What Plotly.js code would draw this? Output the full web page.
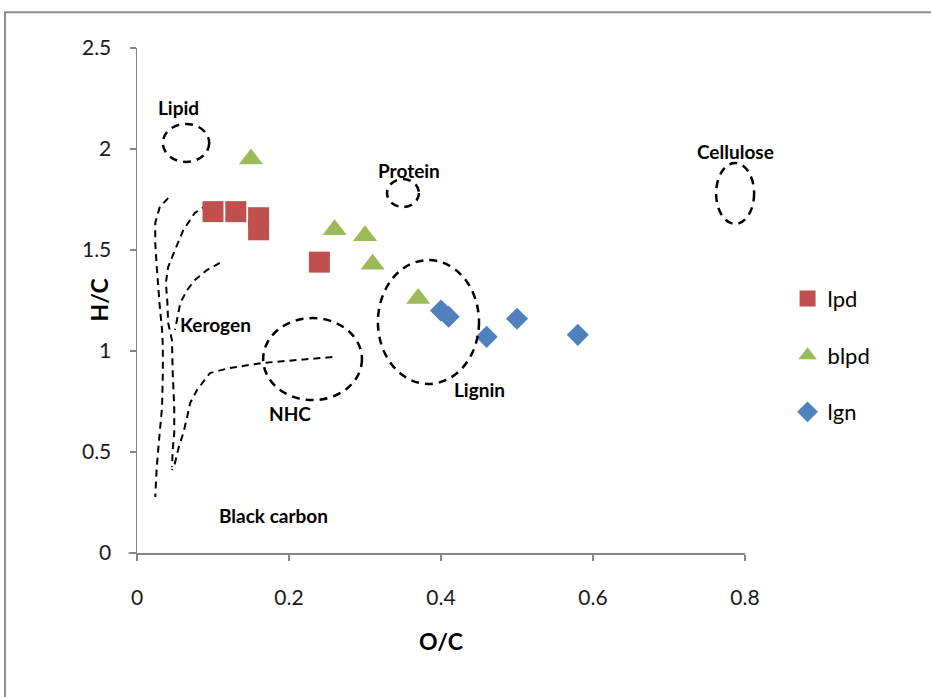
<!DOCTYPE html>
<html>
<head>
<meta charset="utf-8">
<script src="https://cdn.plot.ly/plotly-3.0.1.min.js"></script>
<style>html,body{margin:0;padding:0;background:#fff;}#chart{width:931px;height:697px;}</style>
</head>
<body>
<div id="chart"></div>
<script>
// Series: O/C (x) and H/C (y)
const lpdOC  = [0.10, 0.13, 0.16, 0.16, 0.24];
const lpdHC  = [1.69, 1.69, 1.66, 1.60, 1.44];
const blpdOC = [0.15, 0.26, 0.30, 0.31, 0.37];
const blpdHC = [1.95, 1.60, 1.57, 1.43, 1.26];
const lgnOC  = [0.40, 0.41, 0.46, 0.50, 0.58];
const lgnHC  = [1.20, 1.17, 1.07, 1.16, 1.08];
const seriesNames = ["lpd", "blpd", "lgn"];

// Van Krevelen boundary curves (O/C, H/C)
const curve1OC = [0.041,0.030,0.024,0.024,0.026,0.028,0.030,0.033,0.034,0.034,0.033,0.029,0.026,0.024];
const curve1HC = [1.757,1.713,1.634,1.535,1.416,1.302,1.218,1.104,1.020,0.891,0.723,0.559,0.426,0.277];
const curve2OC = [0.109,0.092,0.076,0.061,0.050,0.041,0.038,0.040,0.041,0.046,0.047,0.049,0.049,0.047,0.046];
const curve2HC = [1.733,1.723,1.683,1.599,1.500,1.416,1.337,1.238,1.139,1.054,0.891,0.723,0.594,0.510,0.426];
const curve3OC = [0.109,0.092,0.076,0.066,0.057,0.053,0.050];
const curve3HC = [1.436,1.401,1.351,1.302,1.238,1.168,1.104];
const curve4OC = [0.257,0.166,0.122,0.096,0.079,0.070,0.066,0.061,0.055,0.050,0.046];
const curve4HC = [0.970,0.941,0.916,0.891,0.807,0.743,0.673,0.594,0.525,0.446,0.411];

// Compound-class regions: [O/C min, O/C max], [H/C min, H/C max]
const regionNames = ["Lipid", "Protein", "Cellulose", "NHC", "Lignin"];
const regionOC = [[0.034,0.095],[0.329,0.371],[0.762,0.812],[0.166,0.296],[0.317,0.450]];
const regionHC = [[1.936,2.124],[1.713,1.851],[1.629,1.931],[0.757,1.163],[0.837,1.450]];

const xTicks = [0, 0.2, 0.4, 0.6, 0.8];
const yTicks = [0, 0.5, 1, 1.5, 2, 2.5];
const xRange = [0, 0.8];
const yRange = [0, 2.5];

const FONT = "Lato, 'Open Sans', sans-serif";
const dashLine = {color: "#000", width: 2, dash: "7px,5px"};

const traces = [];
[[curve1OC,curve1HC],[curve2OC,curve2HC],[curve3OC,curve3HC],[curve4OC,curve4HC]].forEach(c => {
  traces.push({x: c[0], y: c[1], type: "scatter", mode: "lines", line: dashLine,
    showlegend: false, hoverinfo: "skip"});
});
traces.push({x: lpdOC, y: lpdHC, type: "scatter", mode: "markers", name: seriesNames[0],
  legendgroup: "a", marker: {symbol: "square", size: 21, color: "#C0504D"}});
traces.push({x: blpdOC, y: blpdHC, type: "scatter", mode: "markers", name: seriesNames[1],
  legendgroup: "b", marker: {symbol: "triangle-up", size: 21, color: "#9BBB59"}});
traces.push({x: lgnOC, y: lgnHC, type: "scatter", mode: "markers", name: seriesNames[2],
  legendgroup: "c", marker: {symbol: "diamond", size: 17, color: "#4F81BD"}});

const toFrac = (v, r) => (v - r[0]) / (r[1] - r[0]);
const shapes = regionOC.map((ox, i) => ({
  type: "circle", xref: "paper", yref: "paper",
  x0: toFrac(ox[0], xRange), x1: toFrac(ox[1], xRange),
  y0: toFrac(regionHC[i][0], yRange), y1: toFrac(regionHC[i][1], yRange),
  line: {color: "#000", width: 2.5, dash: "8px,6px"}
}));
// outer frame (top and left edge of the picture)
shapes.push({type: "path", xref: "paper", yref: "paper",
  path: "M -0.217,-0.30 L -0.217,1.071 L 1.31,1.071",
  line: {color: "#8c8c8c", width: 2}});
// small extension of the x axis line left of the origin
shapes.push({type: "line", xref: "paper", yref: "paper", x0: -0.014, x1: 0, y0: 0, y1: 0,
  line: {color: "#868686", width: 1.5}});

const lab = (t, x, y) => ({text: "<b>" + t + "</b>", x: x, y: y, xref: "x", yref: "y",
  showarrow: false, font: {family: FONT, size: 19, color: "#000"}, xanchor: "center", yanchor: "middle"});
const annotations = [
  lab(regionNames[0], 0.054, 2.203),
  lab(regionNames[1], 0.358, 1.896),
  lab(regionNames[2], 0.788, 1.99),
  lab("Kerogen", 0.103, 1.129),
  lab(regionNames[3], 0.201, 0.693),
  lab(regionNames[4], 0.45, 0.807),
  lab("Black carbon", 0.18, 0.188),
  {text: "<b>H/C</b>", xref: "paper", yref: "paper", x: -0.064, y: 0.50, textangle: -90,
   showarrow: false, font: {family: FONT, size: 23, color: "#000"}, xanchor: "center", yanchor: "middle"}
];

const layout = {
  width: 931, height: 697,
  margin: {l: 137, r: 186, t: 48, b: 144},
  paper_bgcolor: "#fff", plot_bgcolor: "#fff",
  font: {family: FONT, color: "#222"},
  xaxis: {range: xRange, tickvals: xTicks, ticktext: xTicks.map(String),
    showgrid: false, zeroline: false, showline: true, linecolor: "#868686", linewidth: 1.5,
    ticks: "outside", ticklen: 6, tickcolor: "#868686", tickwidth: 1.5, ticklabelstandoff: 19,
    tickfont: {family: FONT, size: 21, color: "#1a1a1a"},
    title: {text: "<b>O/C</b>", font: {family: FONT, size: 23, color: "#000"}, standoff: 26}},
  yaxis: {range: yRange, tickvals: yTicks, ticktext: yTicks.map(String),
    showgrid: false, zeroline: false, showline: true, linecolor: "#868686", linewidth: 1.5,
    ticks: "outside", ticklen: 6, tickcolor: "#868686", tickwidth: 1.5, ticklabelstandoff: 14,
    tickfont: {family: FONT, size: 21, color: "#1a1a1a"}},
  legend: {x: 1.07, y: 0.545, xanchor: "left", yanchor: "top", tracegroupgap: 25,
    font: {family: FONT, size: 22, color: "#000"}, bgcolor: "rgba(0,0,0,0)"},
  shapes: shapes,
  annotations: annotations
};

Plotly.newPlot("chart", traces, layout, {displayModeBar: false, staticPlot: true});
</script>
</body>
</html>
